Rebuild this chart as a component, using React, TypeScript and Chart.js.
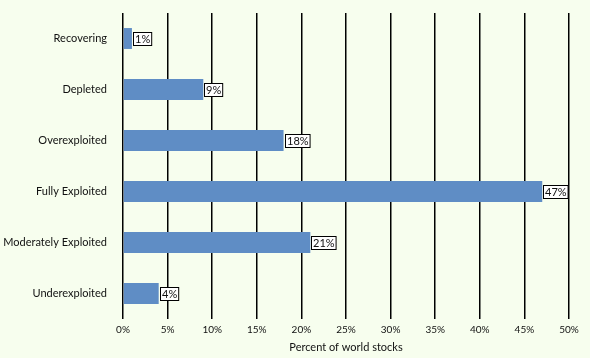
import React, { useEffect, useRef } from "react";
import { Chart, registerables } from "chart.js";

Chart.register(...registerables);

const categories = ["Recovering", "Depleted", "Overexploited", "Fully Exploited", "Moderately Exploited", "Underexploited"];
const values = [1, 9, 18, 47, 21, 4];
const xTicks = [0, 5, 10, 15, 20, 25, 30, 35, 40, 45, 50];
const axisTitle = "Percent of world stocks";

const FONT = "Lato";
const BG = "#f7feee";
const BAR = "#5f8dc5";

const valueLabels = {
  id: "valueLabels",
  afterDatasetsDraw(chart: any) {
    const ctx = chart.ctx;
    const meta = chart.getDatasetMeta(0);
    ctx.save();
    ctx.font = `11px ${FONT}`;
    ctx.textBaseline = "middle";
    ctx.textAlign = "left";
    meta.data.forEach((el: any, i: number) => {
      const txt = values[i] + "%";
      const w = ctx.measureText(txt).width;
      const x = Math.round(el.x) + 1.5;
      const y = Math.round(el.y) - 6.5;
      ctx.fillStyle = "#ffffff";
      ctx.fillRect(x, y, w + 3, 13);
      ctx.strokeStyle = "#000000";
      ctx.lineWidth = 1;
      ctx.strokeRect(x, y, w + 3, 13);
      ctx.fillStyle = "#111111";
      ctx.fillText(txt, x + 1.5, y + 7);
    });
    ctx.restore();
  },
};

export default function App() {
  const ref = useRef<HTMLCanvasElement>(null);
  useEffect(() => {
    document.body.style.margin = "0";
    document.body.style.background = BG;
    const chart = new Chart(ref.current!, {
      type: "bar",
      data: {
        labels: categories,
        datasets: [
          {
            data: values,
            backgroundColor: BAR,
            borderWidth: 0,
            barPercentage: 0.82,
            categoryPercentage: 0.5,
          },
        ],
      },
      options: {
        indexAxis: "y",
        responsive: false,
        animation: false,
        layout: { padding: { top: 13, right: 21, left: 0, bottom: 0 } },
        plugins: { legend: { display: false }, tooltip: { enabled: false } },
        scales: {
          x: {
            min: 0,
            max: 50,
            afterBuildTicks: (s: any) => {
              s.ticks = xTicks.map((v) => ({ value: v }));
            },
            afterFit: (s: any) => {
              s.height = 39;
            },
            grid: { color: "#000000", lineWidth: 1.5, drawTicks: false },
            border: { display: false },
            ticks: {
              padding: 5,
              color: "#111111",
              font: { family: FONT, size: 10 },
              callback: (v: any) => v + "%",
              maxRotation: 0,
            },
            title: {
              display: true,
              text: axisTitle,
              color: "#111111",
              font: { family: FONT, size: 11 },
              padding: { top: 4, bottom: 4 },
            },
          },
          y: {
            afterFit: (s: any) => {
              s.width = 123;
            },
            grid: {
              display: true,
              drawOnChartArea: false,
              drawTicks: true,
              tickLength: 16,
              color: "rgba(0,0,0,0)",
            },
            border: { display: false },
            ticks: {
              padding: 0,
              color: "#111111",
              font: { family: FONT, size: 11 },
            },
          },
        },
      },
      plugins: [valueLabels],
    });
    return () => chart.destroy();
  }, []);
  return (
    <canvas
      ref={ref}
      width={590}
      height={358}
      style={{ display: "block", width: 590, height: 358, background: BG }}
    />
  );
}
